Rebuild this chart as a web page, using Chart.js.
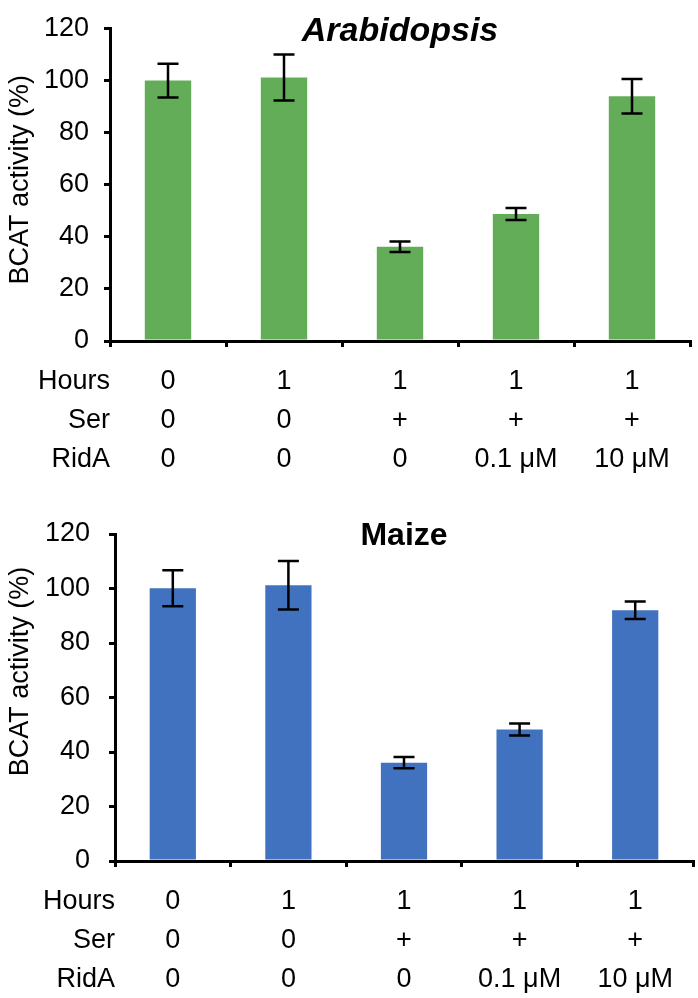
<!DOCTYPE html>
<html>
<head>
<meta charset="utf-8">
<script src="https://cdn.jsdelivr.net/npm/chart.js@4.4.1/dist/chart.umd.min.js"></script>
<style>
  body { margin: 0; background: #fff; }
  canvas { position: absolute; left: 0; }
</style>
</head>
<body>
<canvas id="arab" width="698" height="480" style="top:0"></canvas>
<canvas id="maize" width="698" height="518" style="top:480px"></canvas>
<script>
// values
const hours = ['0', '1', '1', '1', '1'];
const ser = ['0', '0', '+', '+', '+'];
const rida = ['0', '0', '0', '0.1 μM', '10 μM'];
const rowNames = ['Hours', 'Ser', 'RidA'];
const yTicks = [0, 20, 40, 60, 80, 100, 120];

const arabValues = [100, 101.2, 36.2, 48.8, 94.0];
const arabErrors = [6.5, 8.8, 2.0, 2.3, 6.6];
const maizeValues = [100.1, 101.2, 36.1, 48.3, 92.0];
const maizeErrors = [6.6, 8.9, 2.1, 2.2, 3.2];

const FONT = "'Liberation Sans', Arial, sans-serif";
const ROW_H = 39;

const labels = hours.map((h, i) => [h, ser[i], rida[i]]);

// error bars, row headers, titles
const extras = {
  id: 'extras',
  afterDatasetsDraw(chart, args, opts) {
    const ctx = chart.ctx;
    const y = chart.scales.y;
    const meta = chart.getDatasetMeta(0);
    ctx.save();
    ctx.strokeStyle = '#000';
    ctx.lineWidth = 2.5;
    opts.errors.forEach((e, i) => {
      const v = chart.data.datasets[0].data[i];
      const x = meta.data[i].x;
      const top = y.getPixelForValue(v + e);
      const bot = y.getPixelForValue(v - e);
      ctx.beginPath();
      ctx.moveTo(x, top); ctx.lineTo(x, bot);
      ctx.moveTo(x - 10.5, top); ctx.lineTo(x + 10.5, top);
      ctx.moveTo(x - 10.5, bot); ctx.lineTo(x + 10.5, bot);
      ctx.stroke();
    });
    ctx.restore();
  },
  afterDraw(chart, args, opts) {
    const ctx = chart.ctx;
    const a = chart.chartArea;
    ctx.save();
    ctx.fillStyle = '#000';
    // row headers of the table under the axis
    ctx.font = '27px ' + FONT;
    ctx.textAlign = 'right';
    ctx.textBaseline = 'middle';
    rowNames.forEach((n, i) => {
      ctx.fillText(n, a.left, a.bottom + 6 + 15 + ROW_H / 2 + i * ROW_H);
    });
    // title
    ctx.font = opts.titleFont + ' ' + FONT;
    ctx.textAlign = 'center';
    ctx.textBaseline = 'alphabetic';
    ctx.fillText(opts.title, (a.left + a.right) / 2, a.top + opts.titleY);
    // y axis title
    ctx.font = '27px ' + FONT;
    ctx.translate(21, (a.top + a.bottom) / 2 + opts.yTitleShift);
    ctx.rotate(-Math.PI / 2);
    ctx.textBaseline = 'middle';
    ctx.fillText('BCAT activity (%)', 0, 0);
    ctx.restore();
  }
};

function makeChart(id, values, errors, color, o) {
  return new Chart(document.getElementById(id), {
    type: 'bar',
    data: {
      labels: labels,
      datasets: [{
        data: values,
        backgroundColor: color,
        categoryPercentage: 1,
        barPercentage: 0.4
      }]
    },
    options: {
      responsive: false,
      animation: false,
      layout: { padding: { left: 0, right: o.right, top: o.top, bottom: 0 } },
      plugins: {
        legend: { display: false },
        tooltip: { enabled: false },
        extras: { errors: errors, title: o.title, titleFont: o.titleFont, titleY: o.titleY, yTitleShift: o.yTitleShift }
      },
      scales: {
        x: {
          grid: { drawOnChartArea: false, tickLength: 6, lineWidth: 3, color: '#000' },
          border: { color: '#000', width: 3 },
          ticks: {
            color: '#000', padding: 15, autoSkip: false, maxRotation: 0,
            font: { family: FONT, size: 27, lineHeight: ROW_H + 'px' }
          },
          afterFit(s) { s.height = o.xHeight; }
        },
        y: {
          min: 0, max: 120,
          afterBuildTicks(s) { s.ticks = yTicks.map(v => ({ value: v })); },
          grid: { drawOnChartArea: false, tickLength: 6, lineWidth: 3, color: '#000' },
          border: { color: '#000', width: 3 },
          ticks: {
            color: '#000', padding: o.yPad,
            font: { family: FONT, size: 27, lineHeight: 1 }
          },
          afterFit(s) { s.width = o.yWidth; }
        }
      }
    },
    plugins: [extras]
  });
}

makeChart('arab', arabValues, arabErrors, '#64AD58', {
  right: 8, top: 15, xHeight: 139, yWidth: 110, yPad: 15,
  title: 'Arabidopsis', titleFont: 'italic bold 34px', titleY: 12, yTitleShift: -5
});
makeChart('maize', maizeValues, maizeErrors, '#4172BF', {
  right: 5, top: 54, xHeight: 137, yWidth: 115, yPad: 19,
  title: 'Maize', titleFont: 'bold 32px', titleY: 11, yTitleShift: -26
});
</script>
</body>
</html>
